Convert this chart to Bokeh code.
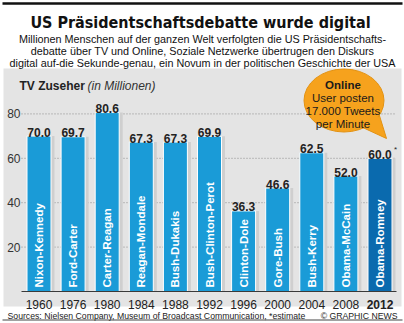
import math
from bokeh.plotting import figure
from bokeh.models import Range1d, ColumnDataSource
from bokeh.core.properties import value
from bokeh.embed import file_html
from bokeh.resources import INLINE

# ---------------- data ----------------
years = ["1960", "1976", "1980", "1984", "1988", "1992", "1996", "2000", "2004", "2008", "2012"]
debates = ["Nixon-Kennedy", "Ford-Carter", "Carter-Reagan", "Reagan-Mondale", "Bush-Dukakis",
           "Bush-Clinton-Perot", "Clinton-Dole", "Gore-Bush", "Bush-Kerry", "Obama-McCain", "Obama-Romney"]
viewers = [70.0, 69.7, 80.6, 67.3, 67.3, 69.9, 36.3, 46.6, 62.5, 52.0, 60.0]
estimate = [False, False, False, False, False, False, False, False, False, False, True]
y_ticks = [20, 40, 60, 80]

title_text = "US Präsidentschaftsdebatte wurde digital"
subtitle_lines = [
    "Millionen Menschen auf der ganzen Welt verfolgten die US Präsidentschafts-",
    "debatte über TV und Online, Soziale Netzwerke übertrugen den Diskurs",
    "digital auf-die Sekunde-genau, ein Novum in der politischen Geschichte der USA",
]
axis_title = "TV Zuseher"
axis_unit = "(in Millionen)"
bubble_lines = ["Online", "User posten", "17.000 Tweets", "per Minute"]
source_text = "Sources: Nielsen Company, Museum of Broadcast Communication, *estimate"
credit_text = "© GRAPHIC NEWS"

# ---------------- layout helpers ----------------
W, H = 404, 323
PX_X = 34.1      # pixels per category step
X0PX = 38.5      # pixel centre of first bar
BASE = 291.0     # pixel row of value 0
PX_Y = 2.22      # pixels per million viewers


def X(px):
    return (px - X0PX) / PX_X


def Y(py):
    return (BASE - py) / PX_Y


SANS = value("Liberation Sans")
NARROW = value("'Liberation Sans Narrow', 'DejaVu Sans Condensed', 'Liberation Sans'")

p = figure(width=W, height=H,
           x_range=Range1d(X(0), X(W)), y_range=Range1d(Y(H), Y(0)),
           output_backend="svg", toolbar_location=None,
           x_axis_location=None, y_axis_location=None,
           min_border=0, outline_line_color=None,
           background_fill_color="white", border_fill_color="white")
p.grid.visible = False

idx = list(range(len(years)))
bar_colors = ["#0a6aae" if e else "#1a9bd7" for e in estimate]
year_styles = ["bold" if e else "normal" for e in estimate]
val_labels = ["%.1f" % v for v in viewers]

src = ColumnDataSource(dict(x=idx, top=viewers, color=bar_colors, name=debates,
                            year=years, ystyle=year_styles, vlabel=val_labels))

# top rule
p.segment(x0=[X(2)], y0=[Y(3)], x1=[X(402)], y1=[Y(3)], line_color="#111111", line_width=2.5)

# grey panel
p.quad(left=[X(3)], right=[X(401)], top=[Y(68)], bottom=[Y(306)],
       fill_color="#e4e4e4", line_color=None)

# dotted grid
p.segment(x0=[X(21)] * len(y_ticks), y0=y_ticks, x1=[X(396)] * len(y_ticks), y1=y_ticks,
          line_color="#8c8c8c", line_width=1, line_dash="1 2")
p.text(x=[X(20)] * len(y_ticks), y=y_ticks, text=[str(t) for t in y_ticks],
       text_align="right", text_baseline="middle", text_font=SANS,
       text_font_size="12px", text_color="#333333")

# bar shadows
p.vbar(x=[i + 3.5 / PX_X for i in idx], top=viewers, bottom=0, width=24 / PX_X,
       fill_color="#cfcfcf", line_color=None)
# bars
p.vbar(x="x", top="top", bottom=0, width=24 / PX_X, source=src,
       fill_color="color", line_color="white", line_width=1)

# baseline
p.segment(x0=[X(21)], y0=[0], x1=[X(396)], y1=[0], line_color="#3a3a3a", line_width=1.2)

# debate names inside bars
p.text(x="x", y=Y(287), text="name", source=src, angle=math.pi / 2,
       text_align="left", text_baseline="middle", text_font=SANS,
       text_font_style="bold", text_font_size="11.5px", text_color="white")

# values above bars
p.text(x="x", y="top", text="vlabel", source=src, y_offset=-4,
       text_align="center", text_baseline="alphabetic", text_font=SANS,
       text_font_style="bold", text_font_size="12px", text_color="#222222")
est_x = [i for i, e in zip(idx, estimate) if e]
est_top = [v for v, e in zip(viewers, estimate) if e]
p.text(x=[i + 14 / PX_X for i in est_x], y=est_top, text=["*"] * len(est_x), y_offset=-9,
       text_align="left", text_baseline="alphabetic", text_font=SANS,
       text_font_size="8px", text_color="#222222")

# year labels
p.text(x="x", y=Y(304), text="year", source=src, text_align="center",
       text_baseline="alphabetic", text_font=SANS, text_font_style="ystyle",
       text_font_size="12px", text_color="#222222")

# axis caption
p.text(x=[X(19)], y=[Y(85)], text=[axis_title], text_align="left", text_baseline="alphabetic",
       text_font=SANS, text_font_style="bold", text_font_size="12px", text_color="#222222")
p.text(x=[X(87)], y=[Y(85)], text=[axis_unit], text_align="left", text_baseline="alphabetic",
       text_font=SANS, text_font_style="italic", text_font_size="12px", text_color="#333333")

# speech bubble
p.patch(x=[X(360), X(386), X(378)], y=[Y(126), Y(138), Y(112)],
        fill_color="#f6a21d", line_color="#e39212", line_width=1)
p.ellipse(x=[X(343.5)], y=[Y(100)], width=80 / PX_X, height=63 / PX_Y,
          fill_color="#f6a21d", line_color="#e39212", line_width=1)
p.patch(x=[X(362), X(384.5), X(376)], y=[Y(124), Y(136.5), Y(113)],
        fill_color="#f6a21d", line_color=None)
b_y = [84, 97, 110, 123]
p.text(x=[X(342.5)] * 4, y=[Y(v) for v in b_y], text=bubble_lines,
       text_align="center", text_baseline="middle", text_font=SANS,
       text_font_style=["bold", "normal", "normal", "normal"],
       text_font_size="11.5px", text_color="#1a1a1a")

# title and subtitle
p.text(x=[X(200)], y=[Y(21.5)], text=[title_text], text_align="center",
       text_baseline="alphabetic", text_font=NARROW, text_font_style="bold",
       text_font_size="16px", text_color="#111111")
p.text(x=[X(202)] * 3, y=[Y(38.5), Y(50.5), Y(62.5)], text=subtitle_lines,
       text_align="center", text_baseline="alphabetic", text_font=SANS,
       text_font_size="10.8px", text_color="#111111")

# footer
p.text(x=[X(7)], y=[Y(315)], text=[source_text], text_align="left",
       text_baseline="alphabetic", text_font=SANS, text_font_size="8.7px", text_color="#222222")
p.text(x=[X(397)], y=[Y(315)], text=[credit_text], text_align="right",
       text_baseline="alphabetic", text_font=SANS, text_font_size="8.7px", text_color="#222222")
p.segment(x0=[X(2)], y0=[Y(319.5)], x1=[X(402)], y1=[Y(319.5)], line_color="#444444", line_width=1)

open("out.html", "w").write(file_html(p, INLINE))
